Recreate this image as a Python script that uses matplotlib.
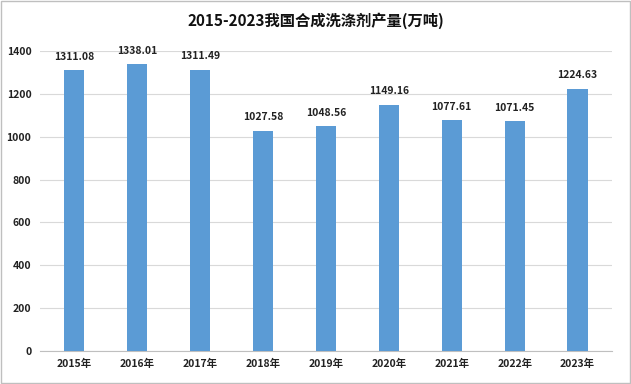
import matplotlib
matplotlib.use("Agg")
import matplotlib.pyplot as plt
from matplotlib.patches import Rectangle

plt.rcParams["font.family"] = ["Noto Sans CJK SC", "DejaVu Sans"]

years = ["2015年", "2016年", "2017年", "2018年", "2019年",
         "2020年", "2021年", "2022年", "2023年"]
output = [1311.08, 1338.01, 1311.49, 1027.58, 1048.56,
          1149.16, 1077.61, 1071.45, 1224.63]
yticks = [0, 200, 400, 600, 800, 1000, 1200, 1400]

fig = plt.figure(figsize=(6.31, 3.84), dpi=100)
ax = fig.add_axes([0.063, 0.086, 0.907, 0.781])

x = range(len(years))
ax.bar(x, output, width=0.32, color="#5B9BD5", zorder=3)
for xi, v in zip(x, output):
    ax.text(xi, v + 40, f"{v:.2f}", ha="center", va="bottom",
            fontsize=7.5, fontweight="bold", color="#222222")

ax.set_xlim(-0.55, len(years) - 0.45)
ax.set_ylim(0, 1400)
ax.set_yticks(yticks)
ax.set_xticks(list(x))
ax.set_xticklabels(years)
ax.grid(axis="y", color="#D9D9D9", lw=0.8, zorder=0)
for s in ["top", "right", "left"]:
    ax.spines[s].set_visible(False)
ax.spines["bottom"].set_color("#BFBFBF")
ax.tick_params(length=0, labelsize=7.5, pad=6)
for lbl in ax.get_xticklabels() + ax.get_yticklabels():
    lbl.set_fontweight("bold")
    lbl.set_color("#222222")

fig.text(0.5, 0.945, "2015-2023我国合成洗涤剂产量(万吨)", ha="center", va="center",
         fontsize=11, fontweight="bold", color="#111111")

fig.patches.append(Rectangle((0.002, 0.003), 0.996, 0.994, transform=fig.transFigure,
                             fill=False, edgecolor="#BFBFBF", lw=1))

fig.savefig("out.png", dpi=100)
